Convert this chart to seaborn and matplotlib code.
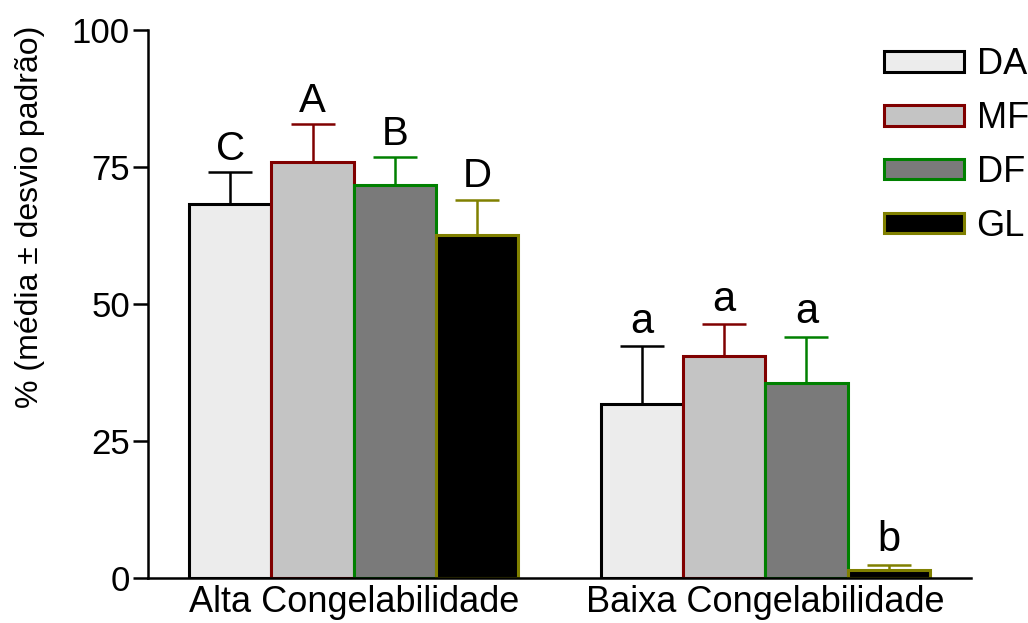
import matplotlib
matplotlib.use("Agg")
import matplotlib.pyplot as plt
import matplotlib.patches as mpatches
import seaborn as sns
import pandas as pd
import numpy as np

# data
grupos = ["Alta Congelabilidade", "Baixa Congelabilidade"]
tratamentos = ["DA", "MF", "DF", "GL"]
media_alta = [68.2, 75.9, 71.7, 62.6]
dp_alta = [5.9, 6.9, 5.1, 6.4]
media_baixa = [31.8, 40.6, 35.5, 1.5]
dp_baixa = [10.5, 5.7, 8.5, 0.9]
letras_alta = ["C", "A", "B", "D"]
letras_baixa = ["a", "a", "a", "b"]

faces = ["#ececec", "#c4c4c4", "#7a7a7a", "#000000"]
bordas = ["#000000", "#800000", "#008000", "#808000"]

df = pd.DataFrame({
    "grupo": [grupos[0]] * 4 + [grupos[1]] * 4,
    "trat": tratamentos * 2,
    "media": media_alta + media_baixa,
    "dp": dp_alta + dp_baixa,
    "letra": letras_alta + letras_baixa,
})

sns.set_style("ticks")
plt.rcParams["font.family"] = ["Liberation Sans", "DejaVu Sans"]
plt.rcParams.update({"text.color": "black", "axes.labelcolor": "black",
                     "xtick.color": "black", "ytick.color": "black",
                     "axes.edgecolor": "black"})

fig = plt.figure(figsize=(10.28, 6.23), dpi=100)
ax = fig.add_axes([148 / 1028, 1 - 578 / 623, (971 - 148) / 1028, (578 - 30) / 623])

sns.barplot(data=df, x="grupo", y="media", hue="trat", hue_order=tratamentos,
            palette=faces, errorbar=None, width=0.8, ax=ax, legend=False,
            linewidth=2.2, saturation=1)

bar_conts = list(ax.containers)
for i, cont in enumerate(bar_conts):
    sub = df[df["trat"] == tratamentos[i]]
    for patch, (_, row) in zip(cont.patches, sub.iterrows()):
        patch.set_edgecolor(bordas[i])
        patch.set_linewidth(2.2)
        cx = patch.get_x() + patch.get_width() / 2
        top = patch.get_height()
        ax.errorbar(cx, top, yerr=[[0], [row["dp"]]], color=bordas[i],
                    capsize=15.5, elinewidth=1.8, capthick=1.8, zorder=1)
        upper = row["letra"].isupper()
        ax.text(cx, top + row["dp"] + 0.8, row["letra"], ha="center", va="bottom",
                fontsize=29 if upper else 30, color="black")

ax.set_ylim(0, 100)
ax.set_xlim(-0.5, 1.5)
ax.set_yticks([0, 25, 50, 75, 100])
ax.set_xlabel("")
ax.set_ylabel("% (média ± desvio padrão)", fontsize=23)
ax.yaxis.set_label_coords(-0.125, 0.66)
ax.tick_params(axis="y", labelsize=25, length=11, width=1.8, direction="out", pad=2)
ax.tick_params(axis="x", labelsize=26, length=0, pad=5)
sns.despine(ax=ax)
for s in ["left", "bottom"]:
    ax.spines[s].set_linewidth(1.8)

handles = [mpatches.Patch(facecolor=faces[i], edgecolor=bordas[i], linewidth=2.2,
                          label=tratamentos[i]) for i in range(4)]
fig.legend(handles=handles, loc="upper left", bbox_to_anchor=(870 / 1028, 1 - 33 / 623),
           frameon=False, fontsize=26, handlelength=2.2, handleheight=0.5,
           labelspacing=0.52, handletextpad=0.35, borderaxespad=0)

fig.savefig("out.png", dpi=100)
